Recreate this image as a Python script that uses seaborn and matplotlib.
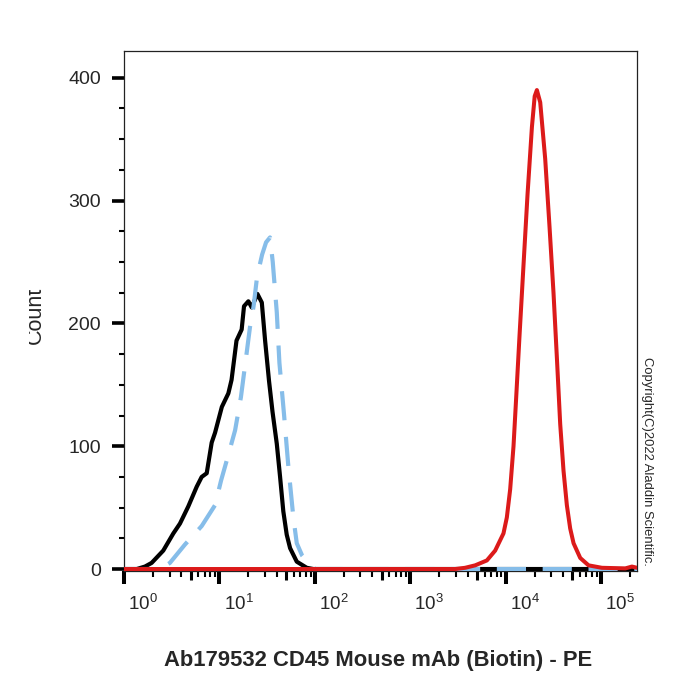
import numpy as np
import seaborn as sns
import matplotlib.pyplot as plt
from matplotlib.ticker import NullFormatter
from matplotlib.transforms import ScaledTranslation, Bbox

# Histogram traces: fluorescence intensity (PE) vs count
black_x = [1.0, 1.36, 1.66, 1.95, 2.58, 3.29, 3.86, 4.72, 5.78, 6.52, 7.36, 8.3, 9.0,
           10.6, 12.4, 13.4, 15.1, 17.1, 18.1, 20.1, 21.8, 25.0, 27.8, 30.1, 33.1,
           36.0, 39.9, 43.2, 46.7, 50.7, 55.0, 64.6, 82.2, 96.4, 237000]
black_y = [0, 0, 2, 5, 15, 29, 37, 51, 67, 75, 78, 103, 111,
           132, 143, 154, 186, 195, 214, 218, 213, 224, 217, 186, 153,
           128, 102, 75, 47, 28, 17, 6, 1, 0, 0]

blue_x = [1.0, 2.38, 3.03, 4.36, 6.52, 9.0, 10.4, 12.3, 14.6, 16.8, 19.0, 20.9, 22.8,
          24.8, 28.0, 30.8, 33.9, 36.2, 39.9, 42.5, 47.5, 52.8, 59.5, 64.6, 73.5,
          85.5, 100.5, 237000]
blue_y = [0, 0, 5, 20, 35, 52, 72, 92, 113, 140, 172, 197, 214,
          238, 256, 266, 270, 250, 209, 168, 126, 83, 42, 21, 11,
          5, 0, 0]

red_x = [1.0, 2950, 3750, 4780, 6340, 7740, 9460, 10260, 11120, 12050, 12860, 13930,
         15350, 16900, 18790, 20090, 21180, 22950, 25880, 28710, 31620, 34360, 37170,
         40270, 43640, 47300, 51300, 60260, 73620, 101600, 178600, 209900, 237000]
red_y = [0, 0, 1, 3, 7, 15, 29, 42, 65, 100, 140, 190,
         248, 305, 360, 385, 390, 380, 334, 279, 225, 171, 118,
         80, 52, 33, 21, 9, 3, 1, 0.5, 2, 1]

x_major = [1, 10, 100, 1000, 10000, 100000]
x_labels = ['$10^{0}$', '$10^{1}$', '$10^{2}$', '$10^{3}$', '$10^{4}$', '$10^{5}$']
y_major = [0, 100, 200, 300, 400]
y_minor = [25, 50, 75, 125, 150, 175, 225, 250, 275, 325, 350, 375]

sns.set_theme(style='white')
plt.rcParams['font.family'] = ['Liberation Sans', 'DejaVu Sans']
plt.rcParams['mathtext.fontset'] = 'custom'
plt.rcParams['mathtext.rm'] = 'Liberation Sans'

fig = plt.figure(figsize=(7, 7), dpi=100)
ax = fig.add_axes([0.1771, 0.1836, 0.7329, 0.7439])

sns.lineplot(x=black_x, y=black_y, ax=ax, color='black', linewidth=3.0, sort=False, zorder=3)
sns.lineplot(x=blue_x, y=blue_y, ax=ax, color='#86bde9', linewidth=3.0, sort=False,
             linestyle=(0, (7, 4)), zorder=4)
sns.lineplot(x=red_x, y=red_y, ax=ax, color='#dc1a1a', linewidth=2.9, sort=False, zorder=5)

ax.set_xscale('log')
ax.set_xlim(1, 237000)
ax.set_ylim(-2, 422)

# x ticks: decades, with small minor ticks and medium ticks at 5x
x_minor = [m * 10 ** d for d in range(6) for m in range(2, 10) if m * 10 ** d < 237000]
ax.set_xticks(x_major, labels=x_labels)
ax.set_xticks(x_minor, minor=True)
ax.xaxis.set_minor_formatter(NullFormatter())
ax.set_yticks(y_major)
ax.set_yticks(y_minor, minor=True)

ax.tick_params(which='both', bottom=True, left=True, direction='out', color='black')
ax.tick_params(axis='x', which='major', length=9.4, width=2.9, labelsize=13.5, pad=6)
ax.tick_params(axis='x', which='minor', length=4.5, width=1.5)
ax.tick_params(axis='y', which='major', length=8.5, width=2.6, labelsize=14, pad=8)
ax.tick_params(axis='y', which='minor', length=3.8, width=1.5)

# medium ticks at 5 x 10^n
ticks = ax.xaxis.get_minor_ticks(len(x_minor))
for loc, t in zip(x_minor, ticks):
    if str(int(loc))[0] == '5':
        t.tick1line.set_markersize(6.5)
        t.tick1line.set_markeredgewidth(2.2)

# decade labels sit a little right of their ticks
shift = ScaledTranslation(19 / 100, 0, fig.dpi_scale_trans)
for lab in ax.get_xticklabels():
    lab.set_transform(lab.get_transform() + shift)

for s in ax.spines.values():
    s.set_linewidth(0.9)
    s.set_color('#222222')

ax.set_xlabel('')
ax.set_ylabel('')

fig.text(0.54, 0.057, 'Ab179532 CD45 Mouse mAb (Biotin) - PE', fontsize=15.8,
         fontweight='bold', ha='center', va='center')
# the axis title is cut off on its left side in the original
cnt = fig.text(0.05, 0.55, 'Count', fontsize=15.5, rotation=90, ha='center', va='center')
cnt.set_clip_box(Bbox.from_extents(29.3, 0, 700, 700))
fig.text(0.924, 0.341, 'Copyright(C)2022 Aladdin Scientific.', fontsize=9.4,
         rotation=270, ha='center', va='center')

plt.savefig('out.png', dpi=100)
